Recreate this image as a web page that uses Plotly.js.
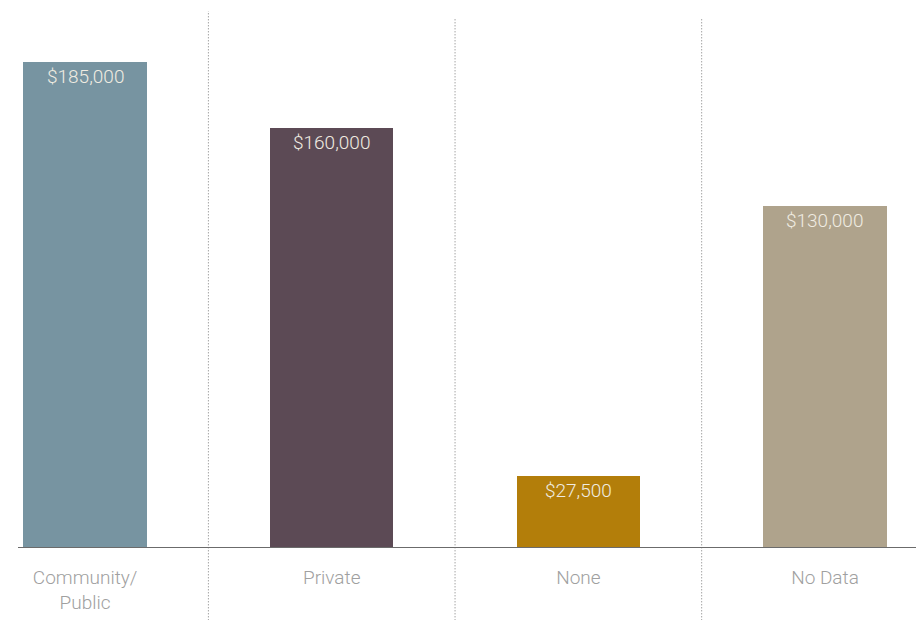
<!DOCTYPE html>
<html>
<head>
<meta charset="utf-8">
<script src="https://cdn.plot.ly/plotly-3.0.1.min.js"></script>
<style>html,body{margin:0;padding:0;background:#fff;}#chart{width:922px;height:620px;}</style>
</head>
<body>
<div id="chart"></div>
<script>
const categories = ["Community/<br>Public", "Private", "None", "No Data"];
const values = [185000, 160000, 27500, 130000];
const labels = ["$185,000", "$160,000", "$27,500", "$130,000"];
const colors = ["#7794a1", "#5c4a55", "#b37e0a", "#afa38c"];
const separatorTops = [0.998, 0.984, 0.984];

const plotTop = 10, baseline = 548;
const plotH = baseline - plotTop;
const pxPerUnit = 486 / 185000;
const yMax = plotH / pxPerUnit;
const fontFam = 'Roboto, "Open Sans", sans-serif';

const shapes = [0.5, 1.5, 2.5].map((x, i) => ({
  type: 'line', xref: 'x', yref: 'paper',
  x0: x, x1: x, y0: -0.14, y1: separatorTops[i],
  line: {color: '#7a7a7a', width: 1, dash: '1px,2px'}
}));

const annotations = values.map((v, i) => ({
  x: i, y: v, xref: 'x', yref: 'y',
  text: labels[i], showarrow: false,
  yanchor: 'top', xanchor: 'center', yshift: -1,
  font: {family: fontFam, size: 19, color: '#f0ece2', weight: 300}
}));

const trace = {
  type: 'bar',
  x: [0, 1, 2, 3],
  y: values,
  width: 0.5,
  marker: {color: colors, line: {width: 0}},
  hoverinfo: 'none'
};

const layout = {
  width: 922, height: 620,
  margin: {l: 18, r: 6, t: plotTop, b: 620 - baseline},
  paper_bgcolor: '#ffffff', plot_bgcolor: '#ffffff',
  showlegend: false,
  bargap: 0,
  xaxis: {
    range: [-0.272, 3.369],
    tickmode: 'array', tickvals: [0, 1, 2, 3], ticktext: categories,
    showgrid: false, zeroline: false, showline: false, ticks: '',
    tickfont: {family: fontFam, size: 19, color: '#a0a0a0', weight: 300},
    ticklabelstandoff: 16
  },
  yaxis: {
    range: [0, yMax], visible: false, showgrid: false, zeroline: false
  },
  annotations: annotations,
  shapes: shapes.concat([{
    type: 'line', xref: 'paper', yref: 'y', x0: 0, x1: 1, y0: 0, y1: 0,
    line: {color: '#6b6b6b', width: 2}
  }])
};

Plotly.newPlot('chart', [trace], layout, {displayModeBar: false, staticPlot: true});
</script>
</body>
</html>
